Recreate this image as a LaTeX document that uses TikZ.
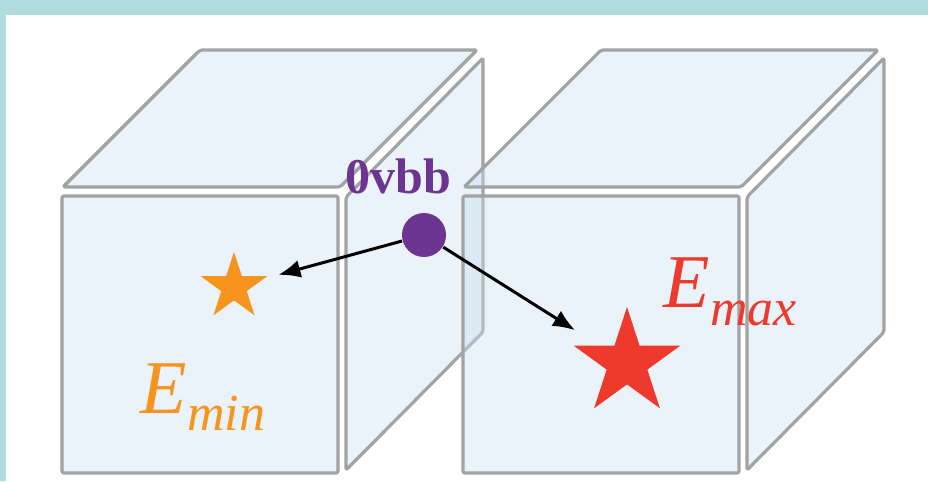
\documentclass[tikz,border=0pt]{standalone}
\usepackage{fontspec}
\setmainfont{Liberation Serif}
\usepackage{tikz}
\usetikzlibrary{shapes,arrows.meta,positioning,calc}

\definecolor{frameteal}{HTML}{B0DCDD}
\definecolor{edgegray}{HTML}{A3A3A3}
\definecolor{facefill}{RGB}{200,225,242}
\definecolor{decaypurple}{HTML}{6C3592}
\definecolor{minorange}{HTML}{F7941D}
\definecolor{maxred}{HTML}{EE3A2C}

\begin{document}
\begin{tikzpicture}[
    x=0.25pt, y=-0.25pt,
    face/.style={draw=edgegray, line width=0.8pt, fill=facefill, fill opacity=0.4, draw opacity=1, rounded corners=0.5pt, line join=round},
    starmark/.style={star, star points=5, star point ratio=2.618, inner sep=0pt, draw=none},
    dot/.style={circle, fill=decaypurple, inner sep=0pt, minimum size=11pt},
    energy/.style={anchor=base west, inner sep=0pt, font=\itshape},
    arrow/.style={-{Latex[length=5.5pt,width=4.5pt]}, line width=0.75pt, black}
]

% Frame
\fill[frameteal] (0,0) rectangle (928,481);
\fill[white] (6,15) rectangle (928,481);
\useasboundingbox (0,0) rectangle (928,481);

% Two exploded cubes
\foreach \dx in {0,401} {
    \begin{scope}[xshift=\dx*0.25pt]
        \filldraw[face] (63,187) -- (200,50) -- (477,50) -- (340,187) -- cycle;
        \filldraw[face] (62,196) rectangle (338,473);
        \filldraw[face] (346,197) -- (483,58) -- (483,332) -- (346,470) -- cycle;
    \end{scope}
}

% Decay vertex
\node[dot] (decay_dot) at (424,235) {};
\node[text=decaypurple, font=\fontsize{12.5}{12.5}\selectfont\bfseries] (decay_label) at (398,176) {0vbb};

% Energy deposits
\node[starmark, fill=minorange, minimum size=17.5pt] (min_star) at (234,287) {};
\node[starmark, fill=maxred, minimum size=28pt] (max_star) at (627,363) {};

% Labels
\node[energy, text=minorange] (emin_label) at (140,413)
    {{\fontsize{19}{19}\selectfont E}\raisebox{-4.25pt}{\fontsize{13}{13}\selectfont min}};
\node[energy, text=maxred] (emax_label) at (663,307)
    {{\fontsize{19}{19}\selectfont E}\raisebox{-4.5pt}{\fontsize{13}{13}\selectfont max}};

% Arrows
\draw[arrow, shorten >=3.3pt] (decay_dot) -- (min_star);
\draw[arrow, shorten >=6.9pt] (decay_dot) -- (max_star);

\end{tikzpicture}
\end{document}
